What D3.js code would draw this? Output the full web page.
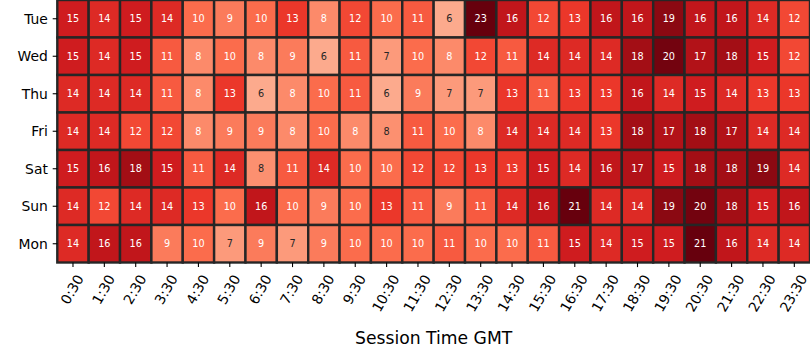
<!DOCTYPE html>
<html><head><meta charset="utf-8">
<script src="https://cdn.jsdelivr.net/npm/d3@7"></script>
<style>body{margin:0;background:#fff}svg{display:block}text{font-family:"DejaVu Sans",sans-serif}</style>
</head><body><svg id="c" width="810" height="360"></svg>
<script>
const days = ["Tue","Wed","Thu","Fri","Sat","Sun","Mon"];
const times = ["0:30","1:30","2:30","3:30","4:30","5:30","6:30","7:30","8:30","9:30","10:30","11:30","12:30","13:30","14:30","15:30","16:30","17:30","18:30","19:30","20:30","21:30","22:30","23:30"];
const tue = [15,14,15,14,10,9,10,13,8,12,10,11,6,23,16,12,13,16,16,19,16,16,14,12];
const wed = [15,14,15,11,8,10,8,9,6,11,7,10,8,12,11,14,14,14,18,20,17,18,15,12];
const thu = [14,14,14,11,8,13,6,8,10,11,6,9,7,7,13,11,13,13,16,14,15,14,13,13];
const fri = [14,14,12,12,8,9,9,8,10,8,7.6,11,10,8,14,14,14,13,18,17,18,17,14,14];
const sat = [15,16,18,15,11,14,7.6,11,14,10,10,12,12,13,13,15,14,16,17,15,18,18,19,14];
const sun = [14,12,14,14,13,10,16,10,9,10,13,11,9,11,14,16,21,14,14,19,20,18,15,16];
const mon = [14,16,16,9,10,7,9,7,9,10,10,10,11,10,10,11,15,14,15,15,21,16,14,14];
const values = [tue,wed,thu,fri,sat,sun,mon];
const redsStops = ["#fff5f0","#fee0d2","#fcbba1","#fc9272","#fb6a4a","#ef3b2c","#cb181d","#a50f15","#67000d"];

const svg = d3.select("#c");
const pLeft = 57.3, pRight = 810, pTop = 0, pBottom = 262.5;
const tickLen = 4.6, tickPad = 4.8;
const x = d3.scaleBand().domain(times).range([pLeft, pRight]);
const y = d3.scaleBand().domain(days).range([pTop, pBottom]);
const vmin = -0.3, vmax = 20.5;
const tScale = d3.scaleLinear().domain([vmin, vmax]).range([0,1]).clamp(true);
const cmap = d3.scaleLinear().domain(d3.range(9).map(i=>i/8)).range(redsStops).interpolate(d3.interpolateRgb);
const color = v => cmap(tScale(v));
function lum(c){
  const r = d3.rgb(c);
  const f = u => { u/=255; return u<=0.03928 ? u/12.92 : Math.pow((u+0.055)/1.055,2.4); };
  return 0.2126*f(r.r)+0.7152*f(r.g)+0.0722*f(r.b);
}
const cells = [];
days.forEach((d,i)=>times.forEach((t,j)=>cells.push({d,t,v:values[i][j]})));

svg.append("g").selectAll("rect").data(cells).join("rect")
  .attr("x", c=>x(c.t)).attr("y", c=>y(c.d))
  .attr("width", x.bandwidth()).attr("height", y.bandwidth())
  .attr("fill", c=>color(c.v)).attr("stroke","#262626").attr("stroke-width",2.4);

svg.append("g").selectAll("text").data(cells).join("text")
  .attr("x", c=>x(c.t)+x.bandwidth()/2).attr("y", c=>y(c.d)+y.bandwidth()/2)
  .attr("text-anchor","middle").attr("dominant-baseline","central")
  .attr("font-size","9.7px")
  .attr("fill", c=> lum(color(c.v)) > 0.408 ? "#262626" : "#ffffff")
  .text(c=>d3.format(".0f")(c.v));

// y axis
const gy = svg.append("g");
days.forEach(d=>{
  const cy = y(d)+y.bandwidth()/2;
  gy.append("line").attr("x1",pLeft-tickLen).attr("x2",pLeft).attr("y1",cy).attr("y2",cy).attr("stroke","#000").attr("stroke-width",1.1);
  gy.append("text").attr("x",pLeft-tickLen-tickPad).attr("y",cy).attr("text-anchor","end").attr("dominant-baseline","central")
    .attr("font-size","13.9px").attr("fill","#000").text(d);
});
// x axis
const gx = svg.append("g");
const fs = 13.9, lh = fs*1.164, ang = Math.PI/3;
times.forEach(t=>{
  const cx = x(t)+x.bandwidth()/2;
  gx.append("line").attr("x1",cx).attr("x2",cx).attr("y1",pBottom).attr("y2",pBottom+tickLen).attr("stroke","#000").attr("stroke-width",1.1);
  const tx = gx.append("text").attr("text-anchor","middle").attr("dominant-baseline","central")
    .attr("font-size",fs+"px").attr("fill","#000").text(t);
  const L = tx.node().getComputedTextLength();
  const H = L*Math.sin(ang) + lh*Math.cos(ang);
  tx.attr("transform",`translate(${cx-1},${pBottom+tickLen+tickPad+H/2}) rotate(-60)`);
});
svg.append("text").attr("x",(pLeft+pRight)/2).attr("y",344).attr("text-anchor","middle")
  .attr("font-size","17.2px").attr("fill","#000").text("Session Time GMT");
</script></body></html>
